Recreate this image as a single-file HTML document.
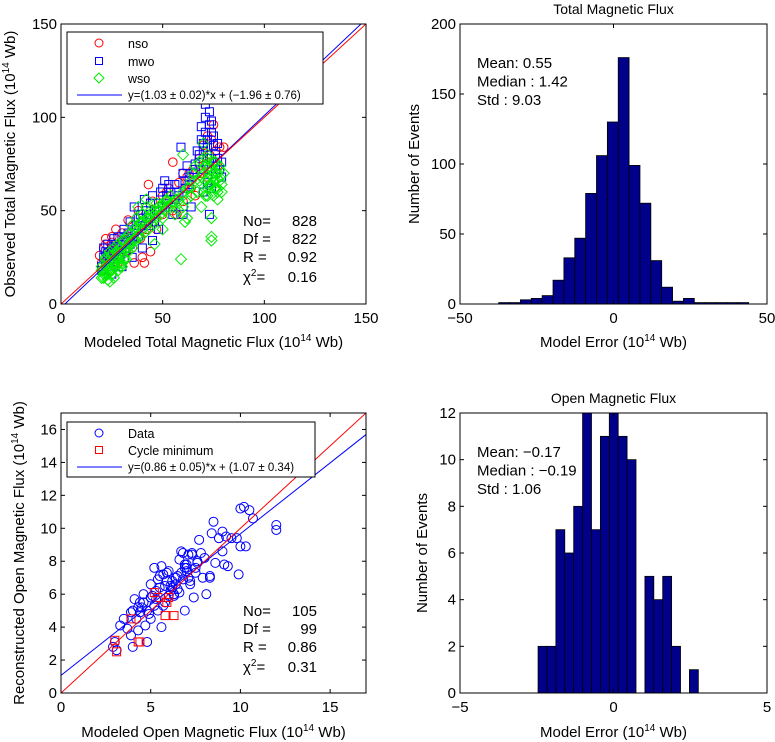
<!DOCTYPE html>
<html><head><meta charset="utf-8"><style>
html,body{margin:0;padding:0;background:#fff;}
svg{display:block;font-family:"Liberation Sans",Arial,sans-serif;}
</style></head><body>
<svg id="fig" width="775" height="742" viewBox="0 0 775 742" xmlns="http://www.w3.org/2000/svg">
<g id="p1"></g>
<g id="p2"></g>
<g id="p3"></g>
<g id="p4"></g>
</svg>
<script>
// ---- Panel 1 data (Total magnetic flux scatter) ----
const nsoX=[20,21,22,23,25,27,30,33,35,38,40,43,45,48,50,52,55,58,60,62,65,68,70,72,74,75,76,78,73,71,28,32,36,40,24,26,30,34,42,46,50,55,60,64,66,69,72,77,35,39,80,19,22,25,41,44,47,53,57,63];
const nsoY=[22,30,35,28,33,40,38,45,42,50,48,64,55,52,58,60,76,65,70,68,72,78,85,90,88,96,82,84,80,75,22,28,22,25,18,26,32,36,40,44,48,50,55,62,58,70,68,74,30,35,84,26,32,36,22,28,40,62,48,70];
const mwoX=[20,21,22,23,24,25,26,27,28,29,30,31,32,33,34,35,36,37,38,40,41,42,44,45,46,48,49,50,51,52,54,55,56,58,59,60,61,62,63,65,66,68,69,70,71,72,73,74,75,76,77,78,79,72,70,74,73,60,55,45,40,35,30,25,48,64,67,71,74,20,22,24,26,28,30,32,34,36,38,40,43,47,52,57,63,70,73,76,79,21,23,25,27,29,31,33,37,39,42,44,50,53,56,61,66,69,71,73,75,77,72,70,74,76,68];
const mwoY=[20,25,28,32,22,30,35,28,36,25,33,40,30,38,44,35,52,40,46,42,56,50,48,58,44,54,60,62,66,58,60,52,64,58,84,70,62,74,68,70,75,80,95,86,100,88,103,92,85,80,78,72,76,65,60,62,48,48,48,34,30,25,20,16,40,52,82,107,98,18,22,26,24,30,28,34,32,38,36,44,42,50,56,60,64,72,78,74,68,30,27,24,32,30,36,34,42,48,46,54,52,64,56,66,72,88,92,96,90,86,84,82,78,70,76];
const wsoX=[20,21,22,22,23,24,25,26,27,28,29,30,31,32,33,34,35,36,37,38,39,40,41,42,43,44,45,46,47,48,50,50,52,55,56,58,59,60,60,61,62,64,65,66,67,68,69,70,70,71,72,72,73,74,74,74,75,76,77,78,79,80,38,42,46,30,62,20,21,22,23,24,25,26,27,28,29,30,31,32,33,34,21,23,25,27,29,31,33,35,37,39,41,43,45,47,49,51,53,55,57,60,63,66,69,72,75,78,71,73,75,77,24,26,28,30,32,20,22,24,26,28,30,32,34,36,38,40,42,44,46,48,50,52,54,22,24,26,28,30,32,34,36,38,40,42,44,46,48,50,52,70,72,74,76,78,71,73,75,77,79,70,72,74,76,78,68,73,75,77,58,60,62,64];
const wsoY=[14,18,20,24,16,22,26,20,28,24,30,26,34,36,30,38,42,34,46,40,44,48,38,52,46,50,42,48,54,50,46,40,52,55,48,50,24,80,58,44,62,66,70,74,60,76,52,70,86,66,78,58,74,46,34,36,68,62,56,72,64,70,52,56,32,22,46,18,16,22,20,26,18,24,22,28,20,26,24,30,28,32,14,13,16,20,22,24,28,30,34,36,38,40,44,46,48,50,52,54,56,60,62,66,68,72,70,66,58,64,76,70,12,14,18,20,24,20,25,28,30,32,34,36,38,40,42,44,46,48,50,52,54,56,58,16,19,22,25,28,30,33,35,37,40,43,45,48,50,53,55,60,62,64,66,68,74,70,66,62,60,78,80,72,76,74,66,64,58,60,54,52,56,58];
const fit1=[1.03,-1.96];
const p1XTicks=[0,50,100,150], p1YTicks=[0,50,100,150];
const p1Stats=["No=","828","Df =","822","R =","0.92"];
const p1Chi="0.16";

// ---- Panel 2 data (Total flux error histogram) ----
const h1Start=-37.4, h1Width=3.54;
const h1Counts=[1,1,3,4,6,17,33,47,79,106,130,176,99,72,31,12,2,4,1,1,1,1,1];
const h1XTicks=[-50,0,50], h1YTicks=[0,50,100,150,200];
const h1Stats=["Mean: 0.55","Median : 1.42","Std : 9.03"];

// ---- Panel 3 data (Open flux scatter) ----
const dataX=[2.9,3.1,3.7,3.9,4.0,4.1,4.0,4.3,4.5,4.6,4.7,4.8,3.3,5.0,5.0,5.2,5.3,5.4,5.5,5.6,5.6,5.7,5.8,5.9,6.0,6.1,6.2,6.4,6.5,6.6,6.7,6.8,6.9,6.9,7.0,7.1,7.2,7.3,7.4,7.5,7.6,7.7,7.8,7.9,8.1,8.3,8.4,8.5,8.6,8.8,9.0,9.0,9.1,9.2,9.3,9.8,9.9,10.0,10.0,10.2,10.3,10.5,10.7,12.0,12.0,4.2,4.4,4.9,5.1,5.3,5.8,6.0,6.3,6.5,6.7,6.8,7.0,7.2,7.5,3.0,3.5,4.6,5.4,5.9,6.3,6.6,7.0,7.3,3.9,4.4,4.8,5.5,6.1,6.9,5.7,6.4,7.6,8.0,9.5,5.0,4.3,5.2,6.2,7.1,8.3];
const dataY=[2.8,2.6,3.9,4.9,5.0,5.7,2.8,3.8,5.2,6.0,4.1,3.1,4.1,6.6,5.8,7.6,6.2,5.0,7.1,7.7,4.0,7.2,6.5,6.8,7.4,6.2,6.4,6.6,7.1,8.1,8.6,8.5,7.8,5.0,7.4,7.0,6.8,8.5,5.8,7.6,7.9,9.3,8.5,7.0,6.0,7.1,9.7,10.4,7.9,9.4,9.8,8.6,7.8,9.5,7.7,9.4,7.2,11.2,8.9,11.3,8.9,11.1,10.6,9.9,10.2,4.5,5.5,4.8,5.9,5.7,5.5,5.9,6.0,6.3,7.3,6.9,7.8,6.6,7.3,3.1,4.5,5.5,6.9,7.3,5.9,6.1,7.6,8.4,3.5,4.9,5.0,6.4,6.5,7.6,5.3,7.0,8.0,8.2,9.4,4.5,5.2,5.3,6.8,8.4,7.0];
const minX=[3.0,3.1,3.9,4.3,5.2,5.4,5.8,5.9,6.0,6.3,4.4];
const minY=[3.2,2.5,4.5,3.1,6.1,5.8,4.7,5.5,5.8,4.7,3.1];
const fit2=[0.86,1.07];
const p3XTicks=[0,5,10,15], p3YTicks=[0,2,4,6,8,10,12,14,16];
const p3Stats=["No=","105","Df =","99","R =","0.86"];
const p3Chi="0.31";

// ---- Panel 4 data (Open flux error histogram) ----
const h2Start=-2.457, h2Width=0.29;
const h2Counts=[2,2,7,6,8,12,7,11,12,11,10,0,5,4,5,2,0,1];
const h2XTicks=[-5,0,5], h2YTicks=[0,2,4,6,8,10,12];
const h2Stats=["Mean: \u22120.17","Median : \u22120.19","Std : 1.06"];

const NS="http://www.w3.org/2000/svg";
function mk(parent,tag,attrs,text){const e=document.createElementNS(NS,tag);for(const k in attrs)e.setAttribute(k,attrs[k]);if(text!==undefined)e.textContent=text;parent.appendChild(e);return e;}
function fmt(v){return v<0?"\u2212"+(-v):String(v);}
function lin(d0,d1,r0,r1){return v=>r0+(v-d0)/(d1-d0)*(r1-r0);}

function axes(g,X,Y,x0,x1,y0,y1,xt,yt,xlab,ylab,ylabX,xlabY,title){
  const clipId="c"+Math.round(x0)+"_"+Math.round(y0);
  const cp=mk(g,"clipPath",{id:clipId});mk(cp,"rect",{x:x0,y:y0,width:x1-x0,height:y1-y0});
  const plot=mk(g,"g",{"clip-path":"url(#"+clipId+")"});
  
  
  const frame=()=>{
    const f=mk(g,"rect",{x:x0,y:y0,width:x1-x0,height:y1-y0,fill:"none",stroke:"#000","stroke-width":1});
    
    
    xt.forEach(v=>{const px=X(v);
      mk(g,"line",{x1:px,x2:px,y1:y1,y2:y1-4,stroke:"#000"});
      mk(g,"line",{x1:px,x2:px,y1:y0,y2:y0+4,stroke:"#000"});
      const t=mk(g,"text",{x:px,y:y1+19,"text-anchor":"middle","font-size":15},fmt(v));
      
      
    });
    yt.forEach(v=>{const py=Y(v);
      mk(g,"line",{x1:x0,x2:x0+4,y1:py,y2:py,stroke:"#000"});
      mk(g,"line",{x1:x1,x2:x1-4,y1:py,y2:py,stroke:"#000"});
      const t=mk(g,"text",{x:x0-4,y:py+5,"text-anchor":"end","font-size":15},fmt(v));
      
      
    });
    const xl=mk(g,"text",{x:(x0+x1)/2,y:xlabY,"text-anchor":"middle","font-size":15});
    xl.innerHTML=xlab;
    
    
    const yl=mk(g,"text",{x:0,y:0,"text-anchor":"middle","font-size":15,transform:"translate("+ylabX+","+((y0+y1)/2)+") rotate(-90)"});
    yl.innerHTML=ylab;
    
    
    if(title){const tt=mk(g,"text",{x:(x0+x1)/2,y:y0-10,"text-anchor":"middle","font-size":14},title);
      
      }
  };
  return {plot,frame};
}
function circle(g,x,y,r,c){mk(g,"circle",{cx:x,cy:y,r:r,fill:"none",stroke:c,"stroke-width":1});}
function square(g,x,y,s,c){mk(g,"rect",{x:x-s/2,y:y-s/2,width:s,height:s,fill:"none",stroke:c,"stroke-width":1});}
function diamond(g,x,y,s,c){mk(g,"polygon",{points:(x)+","+(y-s)+" "+(x+s)+","+y+" "+x+","+(y+s)+" "+(x-s)+","+y,fill:"none",stroke:c,"stroke-width":1});}

// ---------- Panel 1 ----------
(function(){
  const g=document.getElementById("p1");
  const X=lin(0,150,61,366),Y=lin(0,150,304,24);
  const a=axes(g,X,Y,61,366,24,304,p1XTicks,p1YTicks,
    'Modeled Total Magnetic Flux (10<tspan font-size="10" dy="-6">14</tspan><tspan dy="6"> Wb)</tspan>',
    'Observed Total Magnetic Flux (10<tspan font-size="10" dy="-6">14</tspan><tspan dy="6"> Wb)</tspan>',15,347,null);
  const p=a.plot;
  const s1=mk(p,"g",{});
  nsoX.forEach((v,i)=>circle(s1,X(v),Y(nsoY[i]),4.3,"#ff0000"));
  const s2=mk(p,"g",{});
  mwoX.forEach((v,i)=>square(s2,X(v),Y(mwoY[i]),8,"#0000ff"));
  const s3=mk(p,"g",{});
  wsoX.forEach((v,i)=>diamond(s3,X(v),Y(wsoY[i]),5.5,"#00ee00"));
  const l1=mk(p,"line",{x1:X(0),y1:Y(fit1[1]),x2:X(150),y2:Y(fit1[0]*150+fit1[1]),stroke:"#0000ff"});
  
  const l2=mk(p,"line",{x1:X(0),y1:Y(0),x2:X(150),y2:Y(150),stroke:"#ff0000"});
  
  a.frame();
  const lg=mk(g,"g",{});
  mk(lg,"rect",{x:67,y:32,width:256,height:72,fill:"#fff",stroke:"#000"});
  circle(lg,99,43,4,"#ff0000");square(lg,99,61,7,"#0000ff");diamond(lg,99,78,5,"#00ee00");
  mk(lg,"line",{x1:77,x2:122,y1:95,y2:95,stroke:"#0000ff"});
  mk(lg,"text",{x:128,y:48,"font-size":12.5},"nso");
  mk(lg,"text",{x:128,y:66,"font-size":12.5},"mwo");
  mk(lg,"text",{x:128,y:83,"font-size":12.5},"wso");
  mk(lg,"text",{x:128,y:99,"font-size":11.5},"y=(1.03 \u00b1 0.02)*x + (\u22121.96 \u00b1 0.76)");
  const st=mk(g,"g",{"font-size":15});
  [226,244,262].forEach((yy,i)=>{mk(st,"text",{x:243,y:yy},p1Stats[2*i]);mk(st,"text",{x:317,y:yy,"text-anchor":"end"},p1Stats[2*i+1]);});
  const c=mk(st,"text",{x:243,y:282});c.innerHTML='\u03c7<tspan font-size="10" dy="-6">2</tspan><tspan dy="6">=</tspan>';
  mk(st,"text",{x:317,y:282,"text-anchor":"end"},p1Chi);
})();

// ---------- Histograms ----------
function hist(id,start,w,counts,xd,yd,x0,x1,y0,y1,xt,yt,stats,title,ylabX,xlabY,statY){
  const g=document.getElementById(id);
  const X=lin(xd[0],xd[1],x0,x1),Y=lin(yd[0],yd[1],y1,y0);
  const a=axes(g,X,Y,x0,x1,y0,y1,xt,yt,
    'Model Error (10<tspan font-size="10" dy="-6">14</tspan><tspan dy="6"> Wb)</tspan>','Number of Events',ylabX,xlabY,title);
  mk(a.plot,"line",{x1:x0,x2:x1,y1:y1,y2:y1,stroke:"#000"});
  counts.forEach((c,i)=>{
    if(c<=0)return;
    const l=start+i*w;
    const r=mk(a.plot,"rect",{x:X(l),y:Y(c),width:X(l+w)-X(l),height:Y(0)-Y(c),fill:"#00008b",stroke:"#000","stroke-width":0.8});
    
    
  });
  a.frame();
  const st=mk(g,"g",{"font-size":15});
  stats.forEach((s,i)=>mk(st,"text",{x:x0+17,y:statY+i*18.5},s));
}
hist("p2",h1Start,h1Width,h1Counts,[-50,50],[0,200],460,767,24,304,h1XTicks,h1YTicks,h1Stats,"Total Magnetic Flux",419,347,68);
hist("p4",h2Start,h2Width,h2Counts,[-5,5],[0,12],460,767,413,693,h2XTicks,h2YTicks,h2Stats,"Open Magnetic Flux",427,737,457);

// ---------- Panel 3 ----------
(function(){
  const g=document.getElementById("p3");
  const X=lin(0,17,61,366),Y=lin(0,17,693,413);
  const a=axes(g,X,Y,61,366,413,693,p3XTicks,p3YTicks,
    'Modeled Open Magnetic Flux (10<tspan font-size="10" dy="-6">14</tspan><tspan dy="6"> Wb)</tspan>',
    'Reconstructed Open Magnetic Flux (10<tspan font-size="10" dy="-6">14</tspan><tspan dy="6"> Wb)</tspan>',24,737,null);
  const p=a.plot;
  const s1=mk(p,"g",{});
  dataX.forEach((v,i)=>circle(s1,X(v),Y(dataY[i]),4.5,"#0000ff"));
  const s2=mk(p,"g",{});
  minX.forEach((v,i)=>square(s2,X(v),Y(minY[i]),8,"#ff0000"));
  const l1=mk(p,"line",{x1:X(0),y1:Y(fit2[1]),x2:X(17),y2:Y(fit2[0]*17+fit2[1]),stroke:"#0000ff"});
  
  const l2=mk(p,"line",{x1:X(0),y1:Y(0),x2:X(17),y2:Y(17),stroke:"#ff0000"});
  
  a.frame();
  const lg=mk(g,"g",{});
  mk(lg,"rect",{x:67,y:422,width:248,height:55,fill:"#fff",stroke:"#000"});
  circle(lg,99,433,4,"#0000ff");square(lg,99,450,7,"#ff0000");
  mk(lg,"line",{x1:77,x2:122,y1:467,y2:467,stroke:"#0000ff"});
  mk(lg,"text",{x:128,y:438,"font-size":12.5},"Data");
  mk(lg,"text",{x:128,y:455,"font-size":12.5},"Cycle minimum");
  mk(lg,"text",{x:128,y:471,"font-size":11.5},"y=(0.86 \u00b1 0.05)*x + (1.07 \u00b1 0.34)");
  const st=mk(g,"g",{"font-size":15});
  [616,634,652].forEach((yy,i)=>{mk(st,"text",{x:243,y:yy},p3Stats[2*i]);mk(st,"text",{x:317,y:yy,"text-anchor":"end"},p3Stats[2*i+1]);});
  const c=mk(st,"text",{x:243,y:672});c.innerHTML='\u03c7<tspan font-size="10" dy="-6">2</tspan><tspan dy="6">=</tspan>';
  mk(st,"text",{x:317,y:672,"text-anchor":"end"},p3Chi);
})();
</script>
</body></html>
